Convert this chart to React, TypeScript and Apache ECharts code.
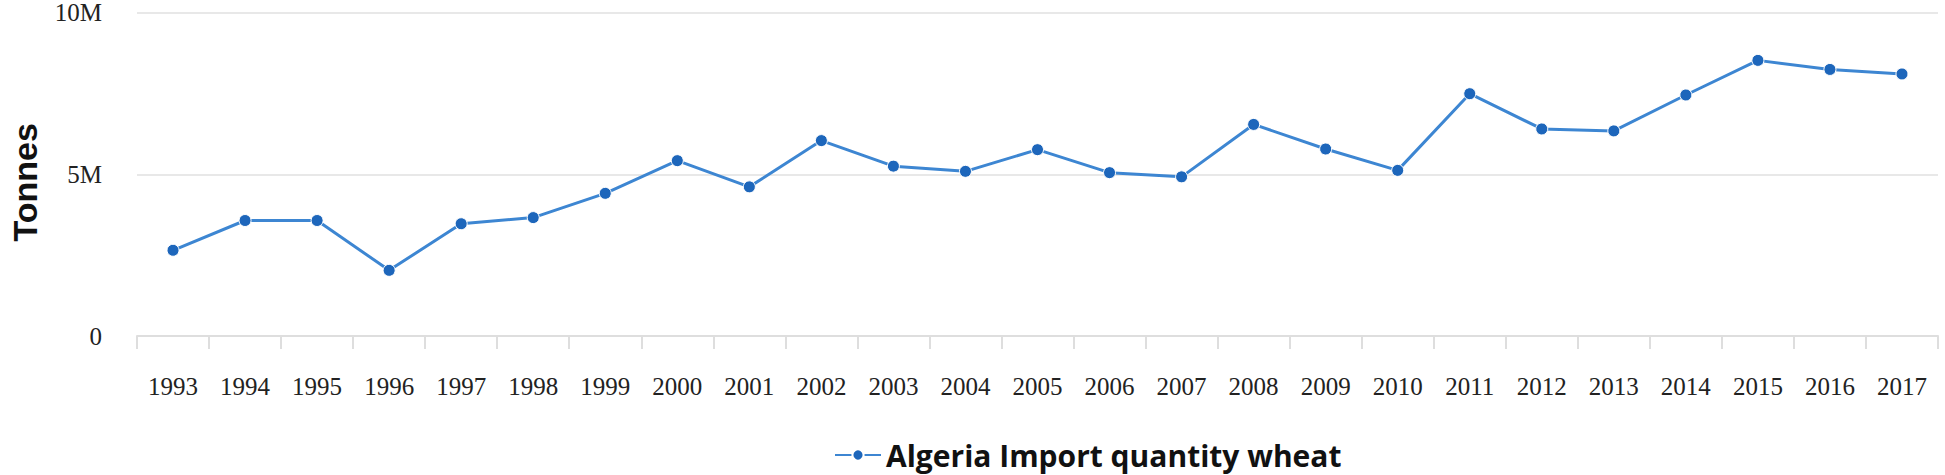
import React, { useEffect, useRef } from "react";
import * as echarts from "echarts";

const years: string[] = [
  "1993", "1994", "1995", "1996", "1997", "1998", "1999", "2000", "2001",
  "2002", "2003", "2004", "2005", "2006", "2007", "2008", "2009", "2010",
  "2011", "2012", "2013", "2014", "2015", "2016", "2017",
];

const importWheat: number[] = [
  2650000, 3570000, 3570000, 2030000, 3470000, 3660000, 4410000, 5420000, 4610000,
  6040000, 5250000, 5090000, 5760000, 5050000, 4920000, 6540000, 5780000, 5120000,
  7490000, 6400000, 6340000, 7450000, 8520000, 8240000, 8100000,
];

const seriesName = "Algeria Import quantity wheat";
const yAxisName = "Tonnes";
const yTickLabels: Record<number, string> = { 0: "0", 5000000: "5M", 10000000: "10M" };

export default function App() {
  const ref = useRef<HTMLDivElement>(null);

  useEffect(() => {
    if (!ref.current) return;
    const chart = echarts.init(ref.current, undefined, { renderer: "svg" });
    chart.setOption({
      animation: false,
      backgroundColor: "#ffffff",
      grid: { left: 130, right: 7, top: 10, bottom: 139, containLabel: false },
      legend: {
        data: [seriesName],
        left: 834,
        top: 440,
        padding: 0,
        itemWidth: 46,
        itemHeight: 14,
        textStyle: {
          fontFamily: "Open Sans",
          fontWeight: "bold",
          fontSize: 30,
          color: "#111111",
        },
      },
      xAxis: {
        type: "category",
        data: years,
        boundaryGap: true,
        axisLine: { show: true, lineStyle: { color: "#dedede", width: 2 } },
        axisTick: { show: true, length: 13, lineStyle: { color: "#dedede", width: 2 } },
        axisLabel: {
          margin: 38,
          fontFamily: "Liberation Serif",
          fontSize: 25,
          color: "#222222",
          interval: 0,
        },
        splitLine: { show: false },
      },
      yAxis: {
        type: "value",
        min: 0,
        max: 10000000,
        interval: 5000000,
        name: yAxisName,
        nameLocation: "middle",
        nameRotate: 90,
        nameGap: 95,
        nameTextStyle: {
          fontFamily: "Liberation Sans",
          fontWeight: "bold",
          fontSize: 34,
          color: "#111111",
          padding: [0, 16, 0, 0],
        },
        axisLine: { show: false },
        axisTick: { show: false },
        axisLabel: {
          margin: 35,
          fontFamily: "Liberation Serif",
          fontSize: 25,
          color: "#222222",
          padding: [8, 0, 0, 0],
          formatter: (v: number) => yTickLabels[v] ?? String(v),
        },
        splitLine: { show: true, lineStyle: { color: "#e8e8e8", width: 2 } },
      },
      series: [
        {
          name: seriesName,
          type: "line",
          data: importWheat,
          symbol: "circle",
          symbolSize: 12,
          lineStyle: { color: "#3d86d2", width: 3 },
          itemStyle: { color: "#1d66bb", borderColor: "#ffffff", borderWidth: 1 },
        },
      ],
    });
    return () => chart.dispose();
  }, []);

  return (
    <div
      ref={ref}
      style={{ position: "fixed", left: 0, top: 0, width: 1945, height: 475 }}
    />
  );
}
